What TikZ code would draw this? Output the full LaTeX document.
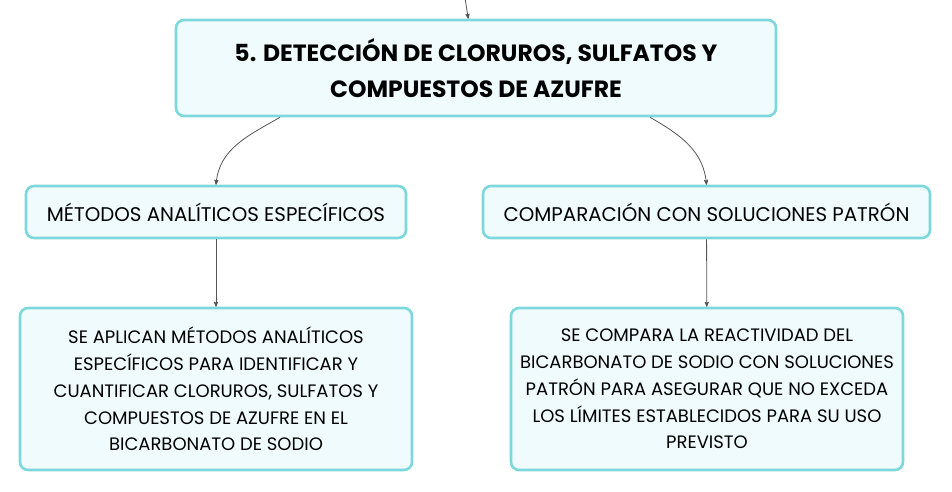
\documentclass[tikz,border=0pt]{standalone}
\usepackage{fontspec}
\setmainfont{Poppins}
\usepackage{xcolor}
\usepackage{tikz}
\usetikzlibrary{shapes,arrows}
\definecolor{boxline}{HTML}{7DD8DB}
\definecolor{boxfill}{HTML}{EFFBFC}
\definecolor{linkgray}{HTML}{555555}
\tikzstyle{mapbox} = [draw=boxline, line width=2.6pt, fill=boxfill, rounded corners=8pt, align=center, inner sep=0pt]
\tikzstyle{mainbox} = [mapbox, minimum width=600pt, minimum height=96pt, font=\fontsize{23.5}{36}\selectfont\bfseries]
\tikzstyle{subbox} = [mapbox, minimum height=52pt, font=\fontsize{19.8}{24}\selectfont]
\tikzstyle{textbox} = [mapbox, minimum width=392pt, minimum height=162pt, font=\fontsize{18}{26.8}\selectfont]
\tikzstyle{link} = [draw, linkgray, line width=0.8pt, ->, >=stealth']

\begin{document}
\begin{tikzpicture}[x=1pt, y=-1pt]
\useasboundingbox (0,0) rectangle (952,492);

\coordinate (in) at (465,-2);
\node [mainbox] at (476,68) (main) {5. DETECCIÓN DE CLORUROS, SULFATOS Y\\COMPUESTOS DE AZUFRE};

\node [subbox, minimum width=380pt] at (216,212) (metodos) {MÉTODOS ANALÍTICOS ESPECÍFICOS};
\node [subbox, minimum width=447pt] at (706.5,212) (compara) {COMPARACIÓN CON SOLUCIONES PATRÓN};

\node [textbox] at (216,389) (metodostxt) {SE APLICAN MÉTODOS ANALÍTICOS\\ESPECÍFICOS PARA IDENTIFICAR Y\\CUANTIFICAR CLORUROS, SULFATOS Y\\COMPUESTOS DE AZUFRE EN EL\\BICARBONATO DE SODIO};
\node [textbox] at (707,389) (comparatxt) {SE COMPARA LA REACTIVIDAD DEL\\BICARBONATO DE SODIO CON SOLUCIONES\\PATRÓN PARA ASEGURAR QUE NO EXCEDA\\LOS LÍMITES ESTABLECIDOS PARA SU USO\\PREVISTO};

\path [link] (in) to (main);
\path [link] ([xshift=-196pt]main.south) to [out=-150, in=85] (metodos.north);
\path [link] ([xshift=174pt]main.south) to [out=-30, in=95] (compara.north);
\path [link] (metodos) to (metodostxt);
\path [link] (compara) to (comparatxt);

\end{tikzpicture}
\end{document}
